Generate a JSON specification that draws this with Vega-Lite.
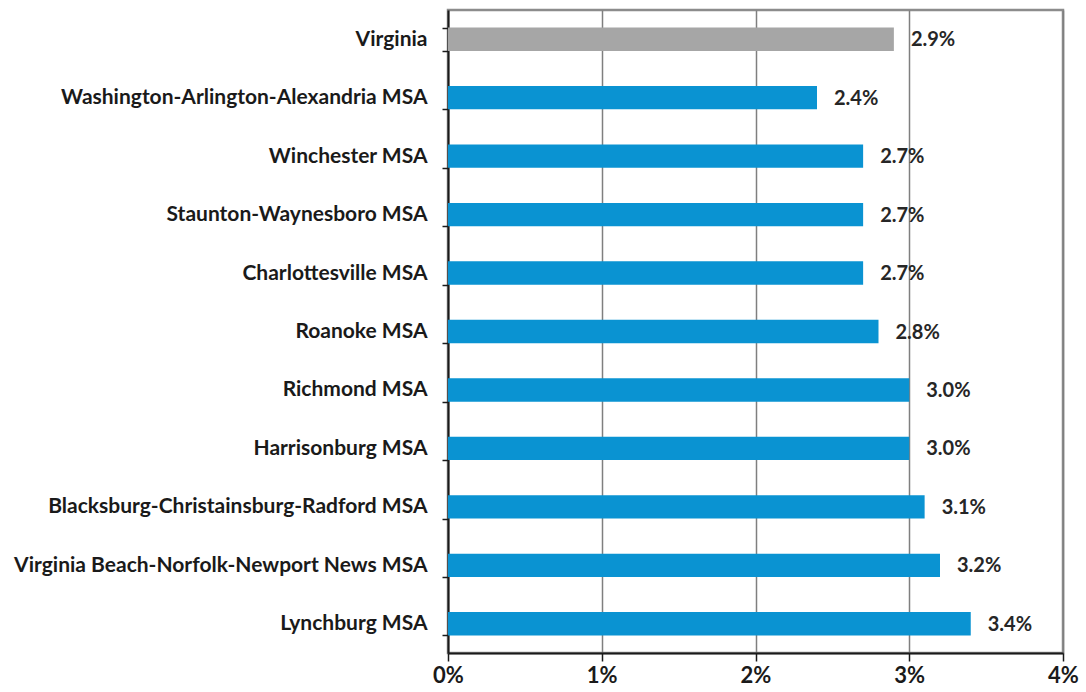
{
  "$schema": "https://vega.github.io/schema/vega-lite/v6.json",
  "width": 615,
  "height": 643,
  "autosize": {"type": "none"},
  "padding": {"left": 448, "top": 10, "right": 23, "bottom": 39},
  "background": "white",
  "config": {
    "view": {"stroke": "#8c8c8c", "strokeWidth": 2.5},
    "font": "Lato"
  },
  "data": {
    "values": [
      {"area": "Virginia", "rate": 2.9, "state": "yes", "label": "2.9%"},
      {"area": "Washington-Arlington-Alexandria MSA", "rate": 2.4, "state": "no", "label": "2.4%"},
      {"area": "Winchester MSA", "rate": 2.7, "state": "no", "label": "2.7%"},
      {"area": "Staunton-Waynesboro MSA", "rate": 2.7, "state": "no", "label": "2.7%"},
      {"area": "Charlottesville MSA", "rate": 2.7, "state": "no", "label": "2.7%"},
      {"area": "Roanoke MSA", "rate": 2.8, "state": "no", "label": "2.8%"},
      {"area": "Richmond MSA", "rate": 3.0, "state": "no", "label": "3.0%"},
      {"area": "Harrisonburg MSA", "rate": 3.0, "state": "no", "label": "3.0%"},
      {"area": "Blacksburg-Christainsburg-Radford MSA", "rate": 3.1, "state": "no", "label": "3.1%"},
      {"area": "Virginia Beach-Norfolk-Newport News MSA", "rate": 3.2, "state": "no", "label": "3.2%"},
      {"area": "Lynchburg MSA", "rate": 3.4, "state": "no", "label": "3.4%"}
    ]
  },
  "encoding": {
    "y": {
      "field": "area",
      "type": "nominal",
      "sort": null,
      "scale": {"paddingInner": 0.6, "paddingOuter": 0.3},
      "axis": {
        "title": null,
        "domainColor": "#1a1a1a",
        "domainWidth": 2,
        "tickBand": "extent",
        "tickColor": "#1a1a1a",
        "tickSize": 6,
        "tickWidth": 1.5,
        "labelPadding": 15,
        "labelFont": "Lato",
        "labelFontWeight": "bold",
        "labelFontSize": 21,
        "labelColor": "#1a1a1a",
        "labelLimit": 500
      }
    },
    "x": {
      "field": "rate",
      "type": "quantitative",
      "scale": {"domain": [0, 4]},
      "axis": {
        "title": null,
        "values": [0, 1, 2, 3, 4],
        "labelExpr": "datum.value + '%'",
        "labelFlush": false,
        "domainColor": "#1a1a1a",
        "domainWidth": 2,
        "tickColor": "#1a1a1a",
        "tickSize": 8,
        "tickWidth": 1.5,
        "gridColor": "#7f7f7f",
        "gridWidth": 1.5,
        "labelPadding": 4,
        "labelFont": "Lato",
        "labelFontWeight": "bold",
        "labelFontSize": 22,
        "labelColor": "#1a1a1a"
      }
    }
  },
  "layer": [
    {
      "mark": {"type": "bar"},
      "encoding": {
        "color": {
          "field": "state",
          "type": "nominal",
          "scale": {"domain": ["yes", "no"], "range": ["#a6a6a6", "#0a93d2"]},
          "legend": null
        }
      }
    },
    {
      "mark": {"type": "text", "align": "left", "baseline": "middle", "dx": 17, "dy": 1, "font": "Lato", "fontWeight": "bold", "fontSize": 20, "color": "#262626"},
      "encoding": {"text": {"field": "label"}}
    }
  ]
}
